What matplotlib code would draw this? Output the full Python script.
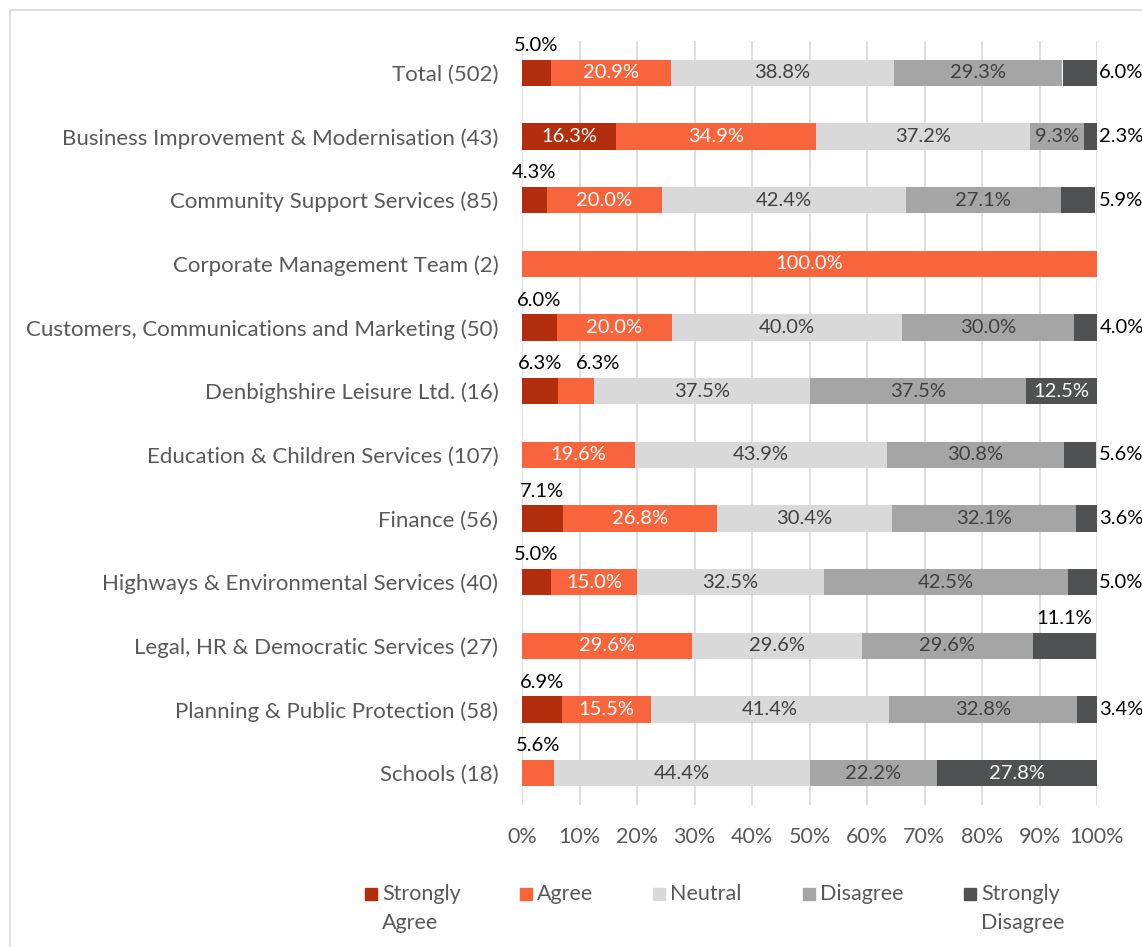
import matplotlib
matplotlib.use("Agg")
import matplotlib.pyplot as plt
from matplotlib.patches import Rectangle

categories = [
    "Total (502)",
    "Business Improvement & Modernisation (43)",
    "Community Support Services (85)",
    "Corporate Management Team (2)",
    "Customers, Communications and Marketing (50)",
    "Denbighshire Leisure Ltd. (16)",
    "Education & Children Services (107)",
    "Finance (56)",
    "Highways & Environmental Services (40)",
    "Legal, HR & Democratic Services (27)",
    "Planning & Public Protection (58)",
    "Schools (18)",
]
strongly_agree = [5.0, 16.3, 4.3, 0, 6.0, 6.3, 0, 7.1, 5.0, 0, 6.9, 0]
agree = [20.9, 34.9, 20.0, 100.0, 20.0, 6.3, 19.6, 26.8, 15.0, 29.6, 15.5, 5.6]
neutral = [38.8, 37.2, 42.4, 0, 40.0, 37.5, 43.9, 30.4, 32.5, 29.6, 41.4, 44.4]
disagree = [29.3, 9.3, 27.1, 0, 30.0, 37.5, 30.8, 32.1, 42.5, 29.6, 32.8, 22.2]
strongly_disagree = [6.0, 2.3, 5.9, 0, 4.0, 12.5, 5.6, 3.6, 5.0, 11.1, 3.4, 27.8]

series_names = ["Strongly\nAgree", "Agree", "Neutral", "Disagree", "Strongly\nDisagree"]
series = [strongly_agree, agree, neutral, disagree, strongly_disagree]
colors = ["#B22E0C", "#F8643B", "#D9D9D9", "#A5A5A5", "#505153"]
inside_text_colors = ["white", "white", "#404040", "#404040", "white"]
xticks = [0, 10, 20, 30, 40, 50, 60, 70, 80, 90, 100]

FONT = "Lato"
GRAY = "#595959"
CAT = 16
LBL = 15.5
VAL = 14.5
plt.rcParams["font.family"] = [FONT, "DejaVu Sans"]

W, H = 1142, 947
fig = plt.figure(figsize=(W / 100, H / 100), dpi=100)
ax = fig.add_axes([522 / W, 1 - 805 / H, (1097 - 522) / W, (805 - 41) / H])

n = len(categories)
ypos = list(range(n))
bar_h = 0.41
left = [0.0] * n
prev_above = [None] * n
for s_idx, (vals, col) in enumerate(zip(series, colors)):
    ax.barh(ypos, vals, left=left, height=bar_h, color=col, zorder=3,
            label=series_names[s_idx])
    for i, v in enumerate(vals):
        if v <= 0:
            continue
        cx = left[i] + v / 2
        txt = f"{v:.1f}%"
        last = s_idx == len(series) - 1
        small = v < 8 or (last and v < 12)
        if small:
            if last and v < 8:
                ax.text(100.4, i, txt, ha="left", va="center", fontsize=VAL,
                        color="black", zorder=4)
            else:
                if prev_above[i] is not None and cx - prev_above[i] < 10:
                    cx = prev_above[i] + 10
                prev_above[i] = cx
                ax.text(cx, i - 0.43, txt, ha="center", va="center", fontsize=VAL,
                        color="black", zorder=4)
        else:
            ax.text(cx, i, txt, ha="center", va="center", fontsize=VAL,
                    color=inside_text_colors[s_idx], zorder=4)
    left = [l + v for l, v in zip(left, vals)]

ax.set_xlim(0, 100)
ax.set_ylim(n - 0.5, -0.5)
ax.set_yticks(ypos)
ax.set_yticklabels(categories, fontsize=CAT, color=GRAY)
ax.set_xticks(xticks)
ax.set_xticklabels([f"{t}%" for t in xticks], fontsize=LBL, color=GRAY)
ax.tick_params(axis="both", length=0)
ax.tick_params(axis="y", pad=17)
ax.tick_params(axis="x", pad=16)
for sp in ax.spines.values():
    sp.set_visible(False)
ax.grid(axis="x", color="#D9D9D9", linewidth=1.2, zorder=0)
ax.set_axisbelow(True)

# legend (manual, Excel style)
leg_x = [365, 520, 653, 803, 964]
for name, col, lx in zip(series_names, colors, leg_x):
    fig.patches.append(Rectangle((lx / W, 1 - 900 / H), 12 / W, 12 / H,
                                 transform=fig.transFigure, color=col))
    lines = name.split("\n")
    fig.text((lx + 17) / W, 1 - 894 / H, lines[0], ha="left", va="center",
             fontsize=LBL, color=GRAY)
    if len(lines) > 1:
        fig.text((lx + 17) / W, 1 - 923 / H, lines[1], ha="left", va="center",
                 fontsize=LBL, color=GRAY)

# chart border
fig.patches.append(Rectangle((10 / W, -0.1), 1.2, 0.1 + 1 - 10 / H,
                             transform=fig.transFigure, fill=False,
                             edgecolor="#D9D9D9", linewidth=1.2))

fig.savefig("out.png", dpi=100)
